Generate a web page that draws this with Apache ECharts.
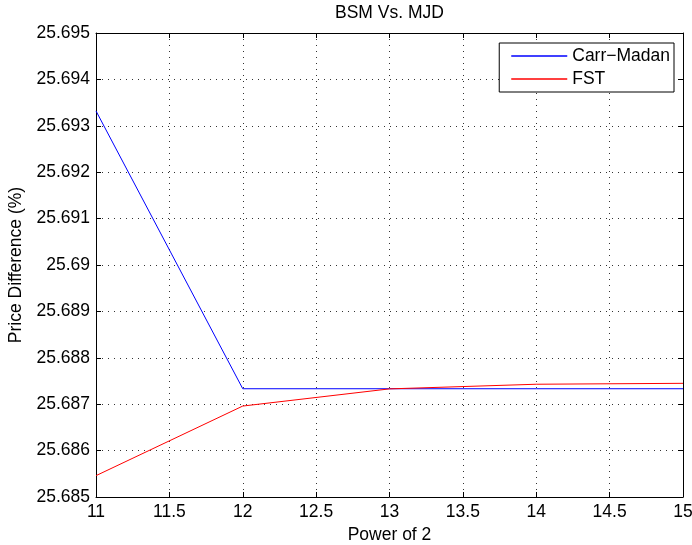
<!DOCTYPE html>
<html><head><meta charset="utf-8">
<script src="https://cdn.jsdelivr.net/npm/echarts@6/dist/echarts.min.js"></script>
<style>html,body{margin:0;padding:0;background:#fff}#c{width:692px;height:545px}</style>
</head><body><div id="c"></div>
<script>
const powers = [11, 12, 13, 14, 15];
const carrMadan = [25.69332, 25.687333, 25.687333, 25.687333, 25.687333];
const fst = [25.68546, 25.68696, 25.68733, 25.68743, 25.68745];
const seriesNames = ['Carr\u2212Madan', 'FST'];
const titleText = 'BSM Vs. MJD';
const xName = 'Power of 2';
const yName = 'Price Difference (%)';

const font = 'Liberation Sans, Arial, Helvetica, sans-serif';
const fs = 17.5;
const chart = echarts.init(document.getElementById('c'));
const grid = {left: 96, right: 9, top: 33, bottom: 48, outerBoundsMode: 'none', containLabel: false};
const dotted = {show: true, lineStyle: {color: '#333', type: [1, 5], width: 1}};
const fmtY = v => String(parseFloat(v.toFixed(3)));
chart.setOption({
  animation: false,
  backgroundColor: '#fff',
  title: {text: titleText, left: 335, top: 4, padding: 0, textStyle: {fontFamily: font, fontSize: fs, fontWeight: 'normal', color: '#000', lineHeight: 18}},
  grid: grid,
  legend: {
    right: 18, top: 43, orient: 'vertical', itemWidth: 56, itemHeight: 1.5, itemGap: 5,
    padding: [4, 4, 4, 12], borderColor: '#000', borderWidth: 1, backgroundColor: '#fff',
    icon: 'rect',
    textStyle: {fontFamily: font, fontSize: fs, color: '#000', lineHeight: 18},
    data: seriesNames
  },
  xAxis: [{
    type: 'value', min: 11, max: 15, interval: 0.5, position: 'bottom',
    name: xName, nameLocation: 'middle', nameGap: 27,
    nameTextStyle: {fontFamily: font, fontSize: fs, color: '#000'},
    axisLine: {show: true, onZero: false, lineStyle: {color: '#000', width: 1}},
    axisTick: {show: true, inside: true, length: 5, lineStyle: {color: '#000'}},
    axisLabel: {fontFamily: font, fontSize: fs, color: '#000', margin: 6, formatter: v => String(v)},
    splitLine: dotted
  }, {
    type: 'value', min: 11, max: 15, interval: 0.5, position: 'top',
    axisLine: {show: true, onZero: false, lineStyle: {color: '#000', width: 1}},
    axisTick: {show: true, inside: true, length: 5, lineStyle: {color: '#000'}},
    axisLabel: {show: false}, splitLine: {show: false}
  }],
  yAxis: [{
    type: 'value', min: 25.685, max: 25.695, interval: 0.001, position: 'left',
    name: yName, nameLocation: 'middle', nameGap: 68,
    nameTextStyle: {fontFamily: font, fontSize: fs, color: '#000'},
    axisLine: {show: true, onZero: false, lineStyle: {color: '#000', width: 1}},
    axisTick: {show: true, inside: true, length: 5, lineStyle: {color: '#000'}},
    axisLabel: {fontFamily: font, fontSize: fs, color: '#000', margin: 6, formatter: fmtY},
    splitLine: dotted
  }, {
    type: 'value', min: 25.685, max: 25.695, interval: 0.001, position: 'right',
    axisLine: {show: true, onZero: false, lineStyle: {color: '#000', width: 1}},
    axisTick: {show: true, inside: true, length: 5, lineStyle: {color: '#000'}},
    axisLabel: {show: false}, splitLine: {show: false}
  }],
  series: [{
    name: seriesNames[0], type: 'line', xAxisIndex: 0, yAxisIndex: 0,
    data: powers.map((p, i) => [p, carrMadan[i]]),
    showSymbol: false, symbol: 'none', color: '#0000ff', lineStyle: {width: 1, color: '#0000ff'}
  }, {
    name: seriesNames[1], type: 'line', xAxisIndex: 0, yAxisIndex: 0,
    data: powers.map((p, i) => [p, fst[i]]),
    showSymbol: false, symbol: 'none', color: '#ff0000', lineStyle: {width: 1, color: '#ff0000'}
  }]
});
</script></body></html>
